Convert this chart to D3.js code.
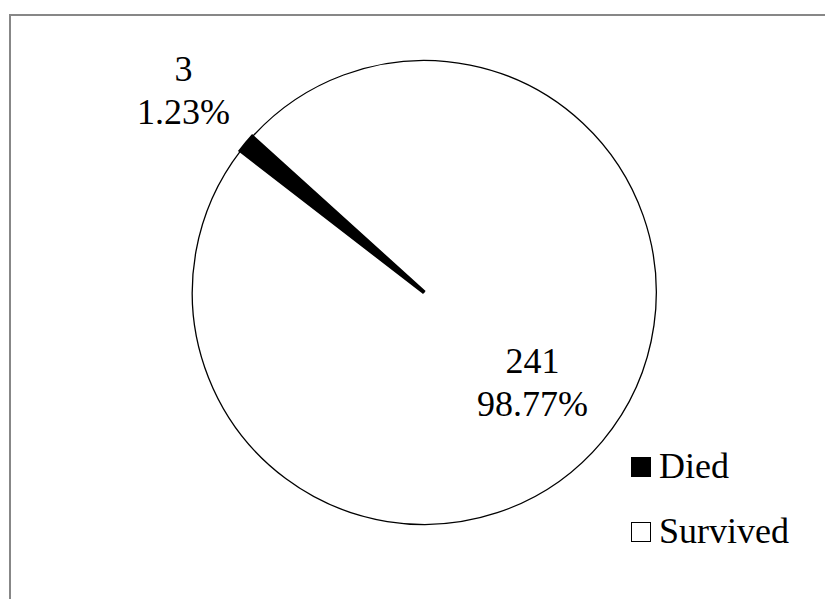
<!DOCTYPE html>
<html>
<head>
<meta charset="utf-8">
<script src="https://cdn.jsdelivr.net/npm/d3@7"></script>
<style>
  html, body { margin: 0; padding: 0; background: #fff; }
  svg { display: block; }
</style>
</head>
<body>
<div id="chart"></div>
<script>
// outcome counts
var categories = ["Died", "Survived"];
var counts = [3, 241];
var sliceColors = ["#000000", "#ffffff"];

var W = 825, H = 599;
var cx = 424.3, cy = 292.5, radius = 232;
var startDeg = -52.3;   // first slice angle
var FONT = "'Liberation Serif', 'Times New Roman', Times, serif";
var FS = 36;

var svg = d3.select("#chart").append("svg")
    .attr("width", W)
    .attr("height", H);

// chart area frame (runs off the right and bottom)
svg.append("rect")
    .attr("x", 10).attr("y", 15)
    .attr("width", W + 20).attr("height", H + 20)
    .attr("fill", "none")
    .attr("stroke", "#878787")
    .attr("stroke-width", 2);

var total = d3.sum(counts);
var color = d3.scaleOrdinal().domain(categories).range(sliceColors);

var rows = categories.map(function(c, i) { return {name: c, value: counts[i]}; });

var start = startDeg * Math.PI / 180;
var pie = d3.pie()
    .sort(null)
    .value(function(d) { return d.value; })
    .startAngle(start)
    .endAngle(start + 2 * Math.PI);

var arc = d3.arc().innerRadius(0).outerRadius(radius);

var g = svg.append("g")
    .attr("transform", "translate(" + cx + "," + cy + ")");

var arcs = pie(rows);

// white slice first so the thin dark one sits on top
g.selectAll("path")
    .data(arcs.slice().reverse())
    .enter().append("path")
    .attr("d", arc)
    .attr("fill", function(d) { return color(d.data.name); })
    .attr("stroke", "#000")
    .attr("stroke-linejoin", "miter")
    .attr("stroke-width", function(d) { return d.data.name == "Died" ? 4 : 1.3; });

// data labels: count + percent
function labelPos(d) {
    var r = d.data.name == "Died" ? 314 : 141;
    return d3.arc().innerRadius(r).outerRadius(r).centroid(d);
}

var labels = g.selectAll(".lbl")
    .data(arcs)
    .enter().append("text")
    .attr("class", "lbl")
    .attr("text-anchor", "middle")
    .style("font-family", FONT)
    .attr("font-size", FS)
    .attr("transform", function(d) { var p = labelPos(d); return "translate(" + p[0] + "," + p[1] + ")"; });

labels.append("tspan")
    .attr("x", 0).attr("y", -10)
    .text(function(d) { return d.data.value; });
labels.append("tspan")
    .attr("x", 0).attr("y", 33)
    .text(function(d) { return (d.data.value / total * 100).toFixed(2) + "%"; });

// legend
var legend = svg.append("g")
    .attr("transform", "translate(631,478)");

var item = legend.selectAll("g")
    .data(categories)
    .enter().append("g")
    .attr("transform", function(d, i) { return "translate(0," + (i * 65) + ")"; });

item.append("rect")
    .attr("x", 0.5).attr("y", -20.5)
    .attr("width", 19).attr("height", 19)
    .attr("fill", function(d) { return color(d); })
    .attr("stroke", "#000")
    .attr("stroke-width", 1);

item.append("text")
    .attr("x", 28).attr("y", 0)
    .style("font-family", FONT)
    .attr("font-size", FS)
    .text(function(d) { return d; });
</script>
</body>
</html>
